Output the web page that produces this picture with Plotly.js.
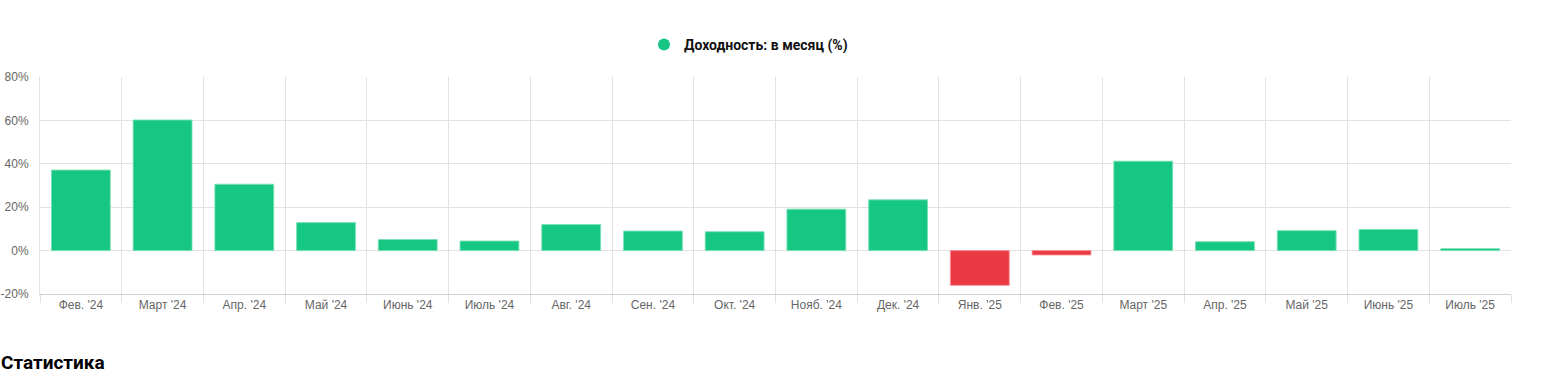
<!DOCTYPE html>
<html>
<head>
<meta charset="utf-8">
<script src="https://cdn.plot.ly/plotly-3.0.1.min.js"></script>
<style>
  html, body { margin: 0; padding: 0; background: #fff; overflow: hidden; }
  #chart { width: 1542px; height: 375px; }
</style>
</head>
<body>
<div id="chart"></div>
<script>
const categories = ["Фев. '24", "Март '24", "Апр. '24", "Май '24", "Июнь '24", "Июль '24",
  "Авг. '24", "Сен. '24", "Окт. '24", "Нояб. '24", "Дек. '24", "Янв. '25",
  "Фев. '25", "Март '25", "Апр. '25", "Май '25", "Июнь '25", "Июль '25"];
const monthlyReturn = [37.1, 60.2, 30.6, 12.9, 5.1, 4.4, 12.0, 9.0, 8.7, 19.1, 23.4, -16.0,
  -2.0, 41.2, 4.1, 9.2, 9.7, 0.9];
const yTickVals = [-20, 0, 20, 40, 60, 80];
const yTickText = ["-20%", "0%", "20%", "40%", "60%", "80%"];
const seriesName = "Доходность: в месяц (%)";
const sectionTitle = "Статистика";

const GREEN = "#16c784";
const RED = "#ea3943";

const barColors = monthlyReturn.map(v => v >= 0 ? GREEN : RED);
const lineColors = monthlyReturn.map(v => v >= 0 ? "rgba(120,225,180,0.9)" : "rgba(245,140,145,0.9)");

const W = 1542, H = 375, L = 40, R = 31, T = 77, B = 81;
const plotW = W - L - R;
const plotH = H - T - B;

const traces = [
  {
    type: "bar",
    x: categories,
    y: monthlyReturn,
    marker: { color: barColors, line: { color: lineColors, width: 1 } },
    showlegend: false,
    hoverinfo: "x+y"
  },
  {
    type: "scatter",
    mode: "markers",
    x: [null],
    y: [null],
    name: seriesName,
    marker: { color: GREEN, size: 12, symbol: "circle" },
    showlegend: true
  }
];

const layout = {
  width: W,
  height: H,
  margin: { l: L, r: R, t: T, b: B },
  paper_bgcolor: "#fff",
  plot_bgcolor: "#fff",
  bargap: 0.28,
  font: { family: "Liberation Sans, Arial, sans-serif", size: 12, color: "#666" },
  showlegend: true,
  legend: {
    orientation: "h",
    x: (644 - L) / plotW,
    xanchor: "left",
    y: 1 - 29 / H,
    yref: "container",
    yanchor: "top",
    font: { family: "Roboto, sans-serif", size: 14, color: "#111", weight: "bold" },
    bgcolor: "rgba(0,0,0,0)",
    itemclick: false
  },
  xaxis: {
    type: "category",
    tickson: "boundaries",
    ticks: "outside",
    ticklen: 8,
    tickcolor: "#e2e2e2",
    showgrid: true,
    gridcolor: "#e2e2e2",
    gridwidth: 1,
    showline: true,
    linecolor: "#d0d0d0",
    linewidth: 1,
    tickfont: { family: "Liberation Sans, Arial, sans-serif", size: 12, color: "#666" },
    fixedrange: true
  },
  yaxis: {
    range: [-20, 80],
    tickvals: yTickVals,
    ticktext: yTickText,
    showgrid: true,
    gridcolor: "#e2e2e2",
    gridwidth: 1,
    zeroline: false,
    showline: true,
    linecolor: "#e2e2e2",
    ticks: "",
    ticklabelstandoff: 8,
    tickfont: { family: "Liberation Sans, Arial, sans-serif", size: 12, color: "#666" },
    fixedrange: true
  },
  annotations: [
    {
      text: "<b>" + sectionTitle + "</b>",
      xref: "paper", yref: "paper",
      x: (-1 - L) / plotW, y: -(362 - (T + plotH)) / plotH,
      xanchor: "left", yanchor: "middle",
      showarrow: false,
      font: { family: "Roboto, sans-serif", size: 19, color: "#000" }
    }
  ]
};

Plotly.newPlot("chart", traces, layout, { displayModeBar: false, staticPlot: true });
</script>
</body>
</html>
